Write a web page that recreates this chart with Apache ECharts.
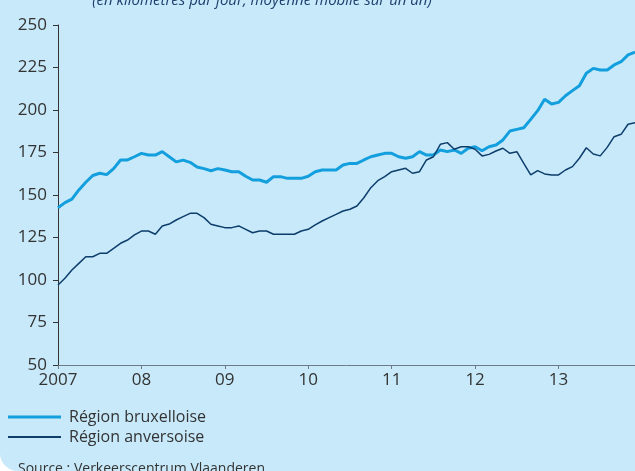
<!DOCTYPE html>
<html>
<head>
<meta charset="utf-8">
<script src="https://cdn.jsdelivr.net/npm/echarts@6/dist/echarts.min.js"></script>
<style>
  html, body { margin: 0; padding: 0; background: #ffffff; }
  #wrap { width: 635px; height: 471px; background: #c7e9f9; border-bottom-left-radius: 18px; overflow: hidden; }
  #chart { width: 635px; height: 471px; }
</style>
</head>
<body>
<div id="wrap"><div id="chart"></div></div>
<script>
// trafic moyen par jour, moyenne mobile sur un an (jan 2007 - déc 2013, mensuel)
const yearLabels = ['2007', '08', '09', '10', '11', '12', '13'];

const bruxelles = [
  142.5, 145.5, 147.6, 153, 157.5, 161.5, 162.8, 162, 165.5, 170.6, 170.6, 172.5,
  174.5, 173.5, 173.5, 175.5, 172.5, 169.5, 170.5, 169.2, 166.5, 165.5, 164.3, 165.5,
  164.7, 163.7, 163.7, 161, 158.8, 158.8, 157.5, 160.8, 160.8, 159.8, 159.8, 159.8,
  161, 163.7, 164.7, 164.7, 164.7, 167.6, 168.6, 168.6, 170.6, 172.5, 173.5, 174.5,
  174.5, 172.5, 171.6, 172.5, 175.5, 173.5, 173.5, 176.5, 175.5, 176.5, 174.5, 177.5,
  178.4, 176, 178.4, 179.4, 182.4, 187.6, 188.6, 189.6, 194.5, 199.6, 206.3, 203.5,
  204.5, 208.4, 211.4, 214.3, 221.6, 224.5, 223.5, 223.5, 226.5, 228.4, 232.4, 234
];

const anvers = [
  97.1, 101, 105.9, 109.8, 113.7, 113.7, 115.7, 115.7, 118.6, 121.6, 123.5, 126.5,
  128.8, 128.8, 126.9, 131.8, 132.9, 135.3, 137.3, 139.2, 139.2, 136.7, 132.8, 131.8,
  130.8, 130.8, 131.8, 129.8, 127.8, 128.8, 128.8, 126.9, 126.9, 126.9, 126.9, 128.8,
  129.8, 132.4, 134.7, 136.7, 138.6, 140.6, 141.6, 143.5, 148.4, 154.3, 158.4, 160.8,
  163.7, 164.7, 165.7, 162.8, 163.7, 170.6, 172.5, 179.8, 180.8, 176.9, 178.4, 178.4,
  176.9, 173, 173.9, 175.9, 177.5, 174.5, 175.5, 168.6, 161.8, 164.3, 162.4, 161.8,
  161.8, 164.7, 166.7, 171.6, 177.8, 174.1, 173, 178, 184.3, 185.7, 191.6, 192.5
];

const seriesNames = ['Région bruxelloise', 'Région anversoise'];

function toPoints(arr) {
  return arr.map((v, i) => [i, v]);
}

const chart = echarts.init(document.getElementById('chart'));

chart.setOption({
  backgroundColor: 'transparent',
  animation: false,
  textStyle: { fontFamily: 'Open Sans' },
  grid: { left: 58, right: 0, top: 25, bottom: 106 },
  graphic: [
    {
      type: 'text', x: 262, y: 1,
      style: {
        text: '(en kilomètres par jour, moyenne mobile sur un an)',
        font: 'italic 15px "Open Sans"', fill: '#1f3f6e',
        textAlign: 'center', textVerticalAlign: 'middle'
      }
    },
    {
      type: 'text', x: 18, y: 469,
      style: {
        text: 'Source : Verkeerscentrum Vlaanderen',
        font: '14px "Open Sans"', fill: '#333',
        textAlign: 'left', textVerticalAlign: 'middle'
      }
    }
  ],
  legend: {
    orient: 'vertical',
    left: 8, top: 407, padding: 0,
    itemWidth: 53, itemHeight: 20, itemGap: 0,
    textStyle: { fontSize: 16, color: '#333', lineHeight: 20, padding: [0, 0, 0, 3] },
    data: [
      { name: seriesNames[0], icon: 'path://M0,0L53,0L53,3L0,3Z' },
      { name: seriesNames[1], icon: 'path://M0,0L53,0L53,2L0,2Z' }
    ]
  },
  xAxis: {
    type: 'value',
    min: 0, max: 83, interval: 12,
    splitLine: { show: false },
    axisLine: { show: true, lineStyle: { color: '#6b7b87', width: 1 } },
    axisTick: { show: true, length: 4, lineStyle: { color: '#6b7b87' } },
    axisLabel: {
      fontSize: 17, color: '#333', margin: 7, showMaxLabel: false,
      formatter: v => (v % 12 === 0 ? yearLabels[v / 12] : '')
    }
  },
  yAxis: {
    type: 'value',
    min: 50, max: 250, interval: 25,
    splitLine: { show: false },
    axisLine: { show: true, lineStyle: { color: '#333', width: 1 } },
    axisTick: { show: true, length: 5, lineStyle: { color: '#333' } },
    axisLabel: { fontSize: 17, color: '#333', margin: 11 }
  },
  series: [
    {
      name: seriesNames[0], type: 'line', data: toPoints(bruxelles),
      showSymbol: false, symbol: 'none', clip: true,
      lineStyle: { color: '#139fde', width: 3 },
      itemStyle: { color: '#139fde' }
    },
    {
      name: seriesNames[1], type: 'line', data: toPoints(anvers),
      showSymbol: false, symbol: 'none', clip: true,
      lineStyle: { color: '#0d3d6b', width: 1.5 },
      itemStyle: { color: '#0d3d6b' }
    }
  ]
});
</script>
</body>
</html>
